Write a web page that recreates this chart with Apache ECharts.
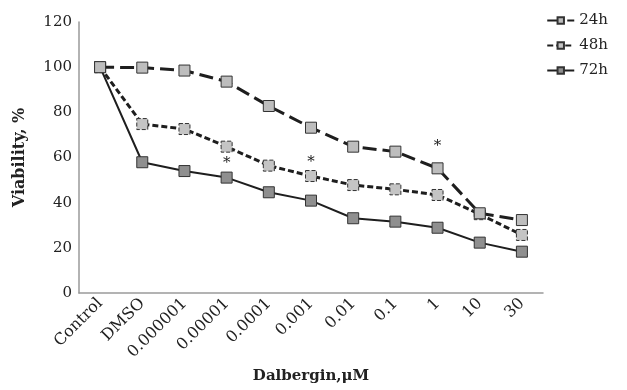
<!DOCTYPE html>
<html><head><meta charset="utf-8">
<script src="https://cdn.jsdelivr.net/npm/echarts@6/dist/echarts.min.js"></script>
<style>html,body{margin:0;padding:0;background:#fff}#c{width:627px;height:390px}</style>
</head><body><div id="c"></div>
<script>
var categories = ['Control','DMSO','0.000001','0.00001','0.0001','0.001','0.01','0.1','1','10','30'];
var seriesNames = ['24h','48h','72h'];
var v24 = [100, 99.8, 98.5, 93.6, 82.8, 73.2, 64.8, 62.6, 55.2, 35.3, 32.3];
var v48 = [100, 74.8, 72.6, 64.8, 56.4, 51.8, 47.8, 45.9, 43.4, 34.9, 25.7];
var v72 = [100, 57.9, 54.0, 51.1, 44.6, 40.9, 33.1, 31.6, 28.9, 22.3, 18.3];
var yTicks = [0, 20, 40, 60, 80, 100, 120];
// significance marks: [series index, category index, position]
var stars = [[1, 3, 'bottom'], [1, 5, 'top'], [0, 8, 'top']];

var FONT = 'DejaVu Serif';
var styles = [
  {line: {type: [14, 6], width: 3}, fill: '#bdbdbd', border: 'solid'},
  {line: {type: [6, 3], width: 3}, fill: '#c4c4c4', border: 'dashed'},
  {line: {type: 'solid', width: 2}, fill: '#8f8f8f', border: 'solid'}
];
var values = [v24, v48, v72];
function buildData(si) {
  return values[si].map(function (v, ci) {
    var item = {value: v};
    stars.forEach(function (s) {
      if (s[0] === si && s[1] === ci) {
        item.label = {show: true, formatter: '*', position: s[2], fontFamily: FONT, fontSize: 15, color: '#222',
          offset: [0, si === 0 ? -4 : (s[2] === 'top' ? 5 : -2)]};
      }
    });
    return item;
  });
}
var chart = echarts.init(document.getElementById('c'));
chart.setOption({
  animation: false,
  grid: {left: 79, right: 84, top: 22, bottom: 97},
  legend: {
    orient: 'vertical', right: 14, top: 8, itemWidth: 27, itemHeight: 8, itemGap: 10,
    textStyle: {fontFamily: FONT, fontSize: 15, color: '#222'},
    data: seriesNames
  },
  xAxis: {
    type: 'category', data: categories, boundaryGap: true,
    name: 'Dalbergin,μM', nameLocation: 'middle', nameGap: 76,
    nameTextStyle: {fontFamily: FONT, fontSize: 15, fontWeight: 'bold', color: '#222'},
    axisLine: {lineStyle: {color: '#9a9a9a', width: 1.5}},
    axisTick: {show: false},
    axisLabel: {rotate: 45, interval: 0, fontFamily: FONT, fontSize: 16, color: '#222', margin: 8}
  },
  yAxis: {
    type: 'value', min: 0, max: 120, interval: 20,
    name: 'Viability, %', nameLocation: 'middle', nameGap: 51,
    nameTextStyle: {fontFamily: FONT, fontSize: 16, fontWeight: 'bold', color: '#222'},
    axisLine: {show: true, lineStyle: {color: '#9a9a9a', width: 1.5}},
    axisTick: {show: false},
    splitLine: {show: false},
    axisLabel: {fontFamily: FONT, fontSize: 15, color: '#222', margin: 7,
      formatter: function (v) { return yTicks.indexOf(v) >= 0 ? String(v) : ''; }}
  },
  series: seriesNames.map(function (n, i) {
    return {
      name: n, type: 'line', data: buildData(i),
      symbol: 'rect', symbolSize: 11,
      lineStyle: {color: '#1e1e1e', width: styles[i].line.width, type: styles[i].line.type},
      itemStyle: {color: styles[i].fill, borderColor: '#333', borderWidth: 1, borderType: styles[i].border},
      z: 3 - i
    };
  })
});
</script></body></html>
